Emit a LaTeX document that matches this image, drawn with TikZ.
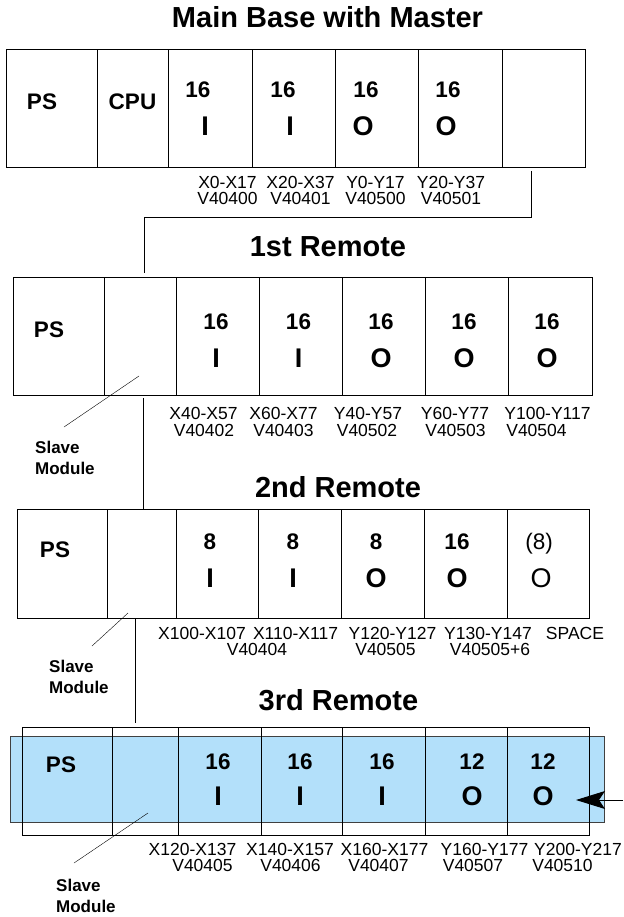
\documentclass[tikz,border=0pt]{standalone}
\usepackage{fontspec}
\setmainfont{Liberation Sans}
\usepackage{xcolor}
\usetikzlibrary{arrows.meta, positioning}

\definecolor{slotblue}{RGB}{179,224,250}

\tikzset{
  basebox/.style={draw, line width=1pt, inner sep=0pt},
  divider/.style={line width=0.8pt},
  title/.style={anchor=base, inner sep=0pt, font=\bfseries\fontsize{29}{29}\selectfont},
  modtxt/.style={anchor=base, inner sep=0pt, font=\bfseries\fontsize{22.5}{22.5}\selectfont},
  iotxt/.style={anchor=base, inner sep=0pt, font=\bfseries\fontsize{27}{27}\selectfont},
  addr/.style={anchor=base, inner sep=0pt, font=\fontsize{17.5}{17.5}\selectfont},
  slavetxt/.style={anchor=base west, align=left, inner sep=0pt, font=\bfseries\fontsize{17}{21}\selectfont},
  link/.style={line width=1pt},
}

\begin{document}
\begin{tikzpicture}[x=1pt, y=-1pt, >=Stealth]
  \useasboundingbox (0,0) rectangle (623,917);

  % Main base
  \node[title] (tmain) at (327.5,28) {Main Base with Master};
  \node[basebox, minimum width=579pt, minimum height=118pt] (main) at (295.5,109) {};
  \foreach \x in {97,168,252,335,418,502}
    \draw[divider] (\x,50) -- (\x,168);
  \node[modtxt] (mps) at (42,110) {PS};
  \node[modtxt] (mcpu) at (132.5,110) {CPU};
  \foreach \x/\n/\l [count=\i] in {198/205/I, 283/290/I, 366/363/O, 448/446/O} {
    \node[modtxt] (mn\i) at (\x,98) {16};
    \node[iotxt] (mio\i) at (\n,136) {\l};
  }
  \foreach \x/\a/\v [count=\i] in {227.5/X0-X17/V40400, 300.5/X20-X37/V40401,
                                   375.5/Y0-Y17/V40500, 451/Y20-Y37/V40501} {
    \node[addr] (ma\i) at (\x,189) {\a};
    \node[addr] (mv\i) at (\x,205) {\v};
  }

  % Master -> 1st remote
  \coordinate (tap0) at (531,171);
  \coordinate (bend0) at (531,218);
  \coordinate (drop1) at (144,273);
  \draw[link] (tap0) -- (bend0) -| (drop1);

  % 1st remote
  \node[title] (tr1) at (328,256) {1st Remote};
  \node[basebox, minimum width=579pt, minimum height=118pt] (rem1) at (302.5,336) {};
  \foreach \x in {104,176,259,342,425,508}
    \draw[divider] (\x,277) -- (\x,395);
  \node[modtxt] (r1ps) at (49,337) {PS};
  \foreach \x/\l [count=\i] in {216/I, 298.5/I, 381/O, 464/O, 547/O} {
    \node[modtxt] (r1n\i) at (\x,329) {16};
    \node[iotxt] (r1io\i) at (\x,367) {\l};
  }
  \foreach \x/\a [count=\i] in {203.5/X40-X57, 283.5/X60-X77, 368/Y40-Y57,
                                455/Y60-Y77, 547.5/Y100-Y117}
    \node[addr] (r1a\i) at (\x,419) {\a};
  \foreach \x/\v [count=\i] in {204/V40402, 283.5/V40403, 367/V40502,
                                455.5/V40503, 536.5/V40504}
    \node[addr] (r1v\i) at (\x,436) {\v};
  \coordinate (sl1a) at (139,376);
  \coordinate (sl1b) at (64,427);
  \draw (sl1a) -- (sl1b);
  \node[slavetxt] (r1slave) at (35,474) {Slave\\Module};

  % 1st -> 2nd remote
  \coordinate (tap1) at (143,398);
  \coordinate (drop2) at (143,509);
  \draw[link] (tap1) -- (drop2);

  % 2nd remote
  \node[title] (tr2) at (338,497) {2nd Remote};
  \node[basebox, minimum width=572pt, minimum height=109pt] (rem2) at (303,563.5) {};
  \foreach \x in {107,176,258,341,424,507}
    \draw[divider] (\x,509) -- (\x,618);
  \node[modtxt] (r2ps) at (55,557) {PS};
  \foreach \x/\t/\l [count=\i] in {210/8/I, 293/8/I, 376/8/O, 457/16/O} {
    \node[modtxt] (r2n\i) at (\x,549) {\t};
    \node[iotxt] (r2io\i) at (\x,587) {\l};
  }
  \node[modtxt, font=\fontsize{22.5}{22.5}\selectfont] (r2n5) at (539,549) {(8)};
  \node[iotxt, font=\fontsize{27}{27}\selectfont] (r2io5) at (541,587) {O};
  \foreach \x/\a [count=\i] in {202/X100-X107, 295.5/X110-X117, 392.5/Y120-Y127,
                                488/Y130-Y147, 575/SPACE}
    \node[addr] (r2a\i) at (\x,639) {\a};
  \foreach \x/\v [count=\i] in {257/V40404, 385.5/V40505, 490/V40505+6}
    \node[addr] (r2v\i) at (\x,655) {\v};
  \coordinate (sl2a) at (128,613);
  \coordinate (sl2b) at (92,646);
  \draw (sl2a) -- (sl2b);
  \node[slavetxt] (r2slave) at (49,693) {Slave\\Module};

  % 2nd -> 3rd remote
  \coordinate (tap2) at (135,618);
  \coordinate (drop3) at (135,723);
  \draw[link] (tap2) -- (drop3);

  % 3rd remote
  \node[title] (tr3) at (338.5,710) {3rd Remote};
  \node[draw=black!75, fill=slotblue, line width=0.8pt, inner sep=0pt,
        minimum width=594pt, minimum height=86pt] (rem3bg) at (307,779) {};
  \node[basebox, minimum width=567pt, minimum height=108pt] (rem3) at (305.5,781) {};
  \foreach \x in {112,178,261,342,425,507}
    \draw[divider] (\x,727) -- (\x,835);
  \node[modtxt] (r3ps) at (61,772) {PS};
  \foreach \x/\t/\l [count=\i] in {218/16/I, 300/16/I, 382/16/I, 472/12/O, 543/12/O} {
    \node[modtxt] (r3n\i) at (\x,769) {\t};
    \node[iotxt] (r3io\i) at (\x,805) {\l};
  }
  \foreach \x/\a [count=\i] in {192.5/X120-X137, 290/X140-X157, 384.5/X160-X177,
                                484.5/Y160-Y177, 578/Y200-Y217}
    \node[addr] (r3a\i) at (\x,855) {\a};
  \foreach \x/\v [count=\i] in {202.5/V40405, 290.5/V40406, 378.5/V40407,
                                473/V40507, 562.5/V40510}
    \node[addr] (r3v\i) at (\x,871) {\v};
  \coordinate (sl3a) at (148,813);
  \coordinate (sl3b) at (74,863);
  \draw (sl3a) -- (sl3b);
  \node[slavetxt] (r3slave) at (56,912) {Slave\\Module};

  % pointer into last slot
  \coordinate (arrtail) at (623,800);
  \coordinate (arrtip) at (576,800);
  \draw[-{Stealth[length=29pt, width=18pt, inset=6pt]}, line width=1pt] (arrtail) -- (arrtip);
\end{tikzpicture}
\end{document}
